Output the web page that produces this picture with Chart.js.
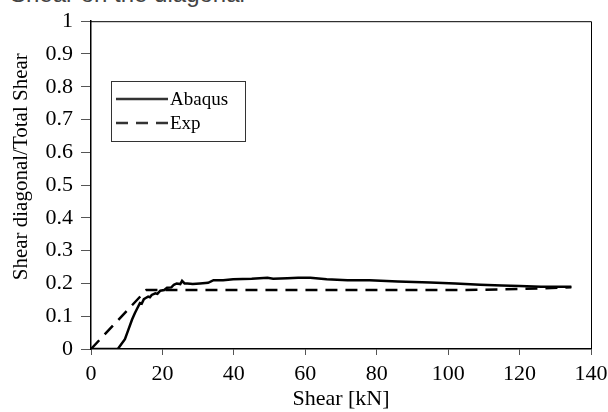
<!DOCTYPE html>
<html>
<head>
<meta charset="utf-8">
<script src="https://cdn.jsdelivr.net/npm/chart.js@4.4.1/dist/chart.umd.min.js"></script>
<style>
    html, body { margin: 0; padding: 0; background: #fff; }
    #wrap { position: relative; width: 608px; height: 412px; overflow: hidden; }
    #cut-title {
        position: absolute; left: 10px; top: -20px;
        font-family: 'Liberation Sans', Arial, sans-serif; font-size: 24px; color: #444;
        white-space: nowrap;
    }
    canvas { position: absolute; left: 0; top: 0; }
</style>
</head>
<body>
<div id="wrap">
    <div id="cut-title">Shear on the diagonal</div>
    <canvas id="shearChart" width="608" height="412"></canvas>
</div>
<script>
// Shear diagonal ratio vs total shear

const abaqusX = [0, 7.5, 9.5, 10.5, 11.5, 12.3, 13, 13.7, 14.2, 14.8, 15.2, 16, 16.5, 17, 18, 18.6, 19.4, 20.5, 21.3, 22.5, 23.2, 24, 25, 25.5, 26.2, 27, 28.5, 30.5, 32.8, 34.3, 37, 39.8, 45, 49.4, 51, 55, 58, 61.4, 66, 71.8, 78, 85.9, 95, 102, 109, 115, 120, 126, 130, 134.5];
const abaqusY = [0, 0, 0.03, 0.06, 0.09, 0.11, 0.125, 0.14, 0.138, 0.152, 0.155, 0.16, 0.158, 0.165, 0.17, 0.168, 0.178, 0.18, 0.187, 0.188, 0.196, 0.2, 0.198, 0.208, 0.2, 0.2, 0.198, 0.2, 0.202, 0.21, 0.21, 0.213, 0.214, 0.217, 0.214, 0.216, 0.217, 0.217, 0.213, 0.21, 0.21, 0.206, 0.203, 0.2, 0.196, 0.194, 0.192, 0.19, 0.19, 0.19];

const expX = [0, 15.5, 105, 120, 134.5];
const expY = [0, 0.18, 0.18, 0.183, 0.188];

const xTicks = [0, 20, 40, 60, 80, 100, 120, 140];
const yTicks = [0, 0.1, 0.2, 0.3, 0.4, 0.5, 0.6, 0.7, 0.8, 0.9, 1];

const toPoints = (xs, ys) => xs.map((x, i) => ({ x: x, y: ys[i] }));

const serif = "'Liberation Serif', 'Times New Roman', serif";
Chart.defaults.font.family = serif;
Chart.defaults.color = '#000';

// box round the plot area
const frame = {
    id: 'frame',
    afterDraw(chart) {
        const a = chart.chartArea;
        const ctx = chart.ctx;
        ctx.save();
        ctx.strokeStyle = '#000';
        ctx.lineWidth = 1;
        ctx.beginPath();
        ctx.moveTo(a.left, a.top + 0.5);
        ctx.lineTo(a.right + 0.5, a.top + 0.5);
        ctx.lineTo(a.right + 0.5, a.bottom);
        ctx.stroke();
        ctx.restore();
    }
};

// legend box
const legendBox = {
    id: 'legendBox',
    afterDraw(chart) {
        const ctx = chart.ctx;
        const items = chart.data.datasets;
        ctx.save();
        ctx.strokeStyle = '#333';
        ctx.lineWidth = 1;
        ctx.strokeRect(111.5, 81.5, 134, 60);
        ctx.font = '19px ' + serif;
        ctx.textBaseline = 'middle';
        ctx.fillStyle = '#000';
        items.forEach((ds, i) => {
            const y = 99 + i * 24;
            ctx.beginPath();
            ctx.lineWidth = ds.borderWidth;
            ctx.setLineDash(ds.borderDash || []);
            ctx.moveTo(116, y);
            ctx.lineTo(168, y);
            ctx.stroke();
            ctx.setLineDash([]);
            ctx.fillText(ds.label, 170, y + 1);
        });
        ctx.restore();
    }
};

new Chart(document.getElementById('shearChart'), {
    type: 'scatter',
    data: {
        datasets: [
            {
                label: 'Abaqus',
                data: toPoints(abaqusX, abaqusY),
                showLine: true,
                borderColor: '#000',
                borderWidth: 2.5,
                pointRadius: 0,
                tension: 0
            },
            {
                label: 'Exp',
                data: toPoints(expX, expY),
                showLine: true,
                borderColor: '#000',
                borderWidth: 2.5,
                borderDash: [12, 8],
                pointRadius: 0,
                tension: 0
            }
        ]
    },
    options: {
        responsive: false,
        animation: false,
        layout: { padding: { top: 18, right: 17, left: 0, bottom: 0 } },
        plugins: { legend: { display: false }, tooltip: { enabled: false } },
        scales: {
            x: {
                type: 'linear', min: 0, max: 140,
                afterBuildTicks: s => { s.ticks = xTicks.map(v => ({ value: v })); },
                afterFit: s => { s.height = 63; s.paddingRight = 0; },
                grid: { drawOnChartArea: false, tickLength: 6, color: '#555' },
                border: { color: '#000', width: 1.5 },
                ticks: { font: { size: 22 }, padding: 6, maxRotation: 0 },
                title: { display: true, text: 'Shear [kN]', font: { size: 22 }, padding: { top: -6, bottom: 0 } }
            },
            y: {
                type: 'linear', min: 0, max: 1,
                afterBuildTicks: s => { s.ticks = yTicks.map(v => ({ value: v })); },
                afterFit: s => { s.width = 91; },
                grid: { drawOnChartArea: false, tickLength: 10, color: '#555' },
                border: { color: '#000', width: 1.5 },
                ticks: { font: { size: 22 }, padding: 8, callback: v => String(Math.round(v * 10) / 10) },
                title: { display: true, text: '       Shear diagonal/Total Shear', font: { size: 21 }, padding: { top: 9, bottom: 0 } }
            }
        }
    },
    plugins: [frame, legendBox]
});
</script>
</body>
</html>
